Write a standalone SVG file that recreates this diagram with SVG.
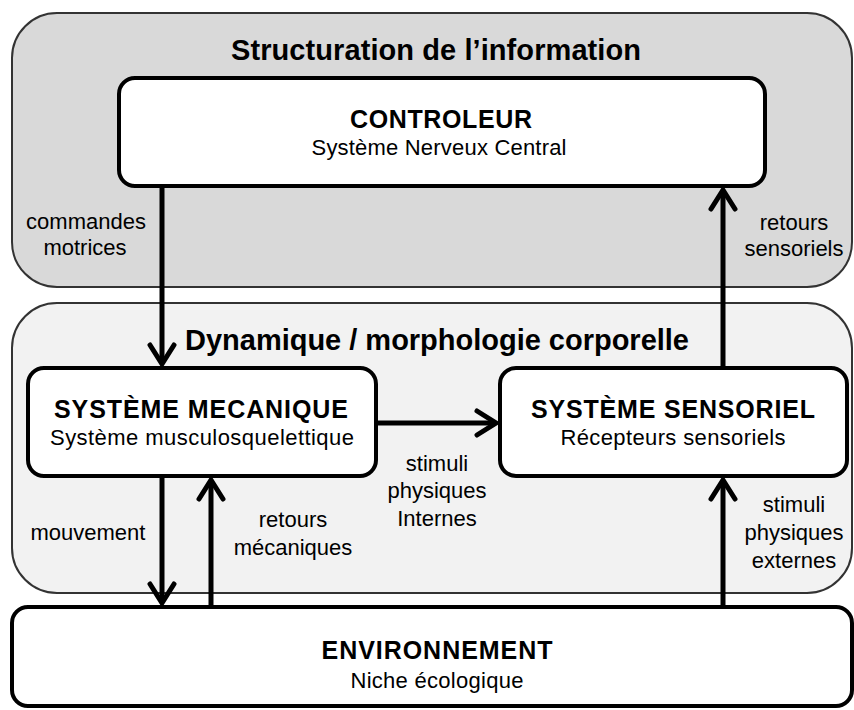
<svg xmlns="http://www.w3.org/2000/svg" width="854" height="710" viewBox="0 0 854 710">
<style>
text{font-family:"Liberation Sans",Arial,sans-serif;fill:#000;text-anchor:middle}
.t{font-size:29px;font-weight:bold}
.h{font-size:25px;font-weight:bold}
.s{font-size:22px}
.l{font-size:22px}
.zone{stroke:#333;stroke-width:2}
.box{fill:#fff;stroke:#000;stroke-width:4}
.arr{fill:none;stroke:#000;stroke-width:5;marker-end:url(#ah)}
</style>
<defs>
<marker id="ah" markerUnits="userSpaceOnUse" viewBox="-24 -15 28 30" refX="0" refY="0" markerWidth="28" markerHeight="30" orient="auto">
<path d="M-19,-12 L0,0 L-19,12" fill="none" stroke="#000" stroke-width="5" stroke-linecap="round" stroke-linejoin="miter"/>
</marker>
</defs>
<g id="zone-information">
<rect class="zone" x="12" y="13" width="840" height="274" rx="45" fill="#d9d9d9"/>
<text class="t" x="436" y="60" textLength="410">Structuration de l’information</text>
</g>
<g id="zone-dynamique">
<rect class="zone" x="12" y="303" width="840" height="290" rx="45" fill="#f2f2f2"/>
<text class="t" x="437" y="350" textLength="504">Dynamique / morphologie corporelle</text>
</g>
<g id="controleur">
<rect class="box" x="119" y="78" width="646" height="108" rx="16"/>
<text class="h" x="441" y="128" textLength="182">CONTROLEUR</text>
<text class="s" x="439" y="155" textLength="255">Système Nerveux Central</text>
</g>
<g id="systeme-mecanique">
<rect class="box" x="28" y="368" width="348" height="108" rx="16"/>
<text class="h" x="201" y="418" textLength="294">SYSTÈME MECANIQUE</text>
<text class="s" x="202" y="445" textLength="304">Système musculosquelettique</text>
</g>
<g id="systeme-sensoriel">
<rect class="box" x="500" y="368" width="347" height="108" rx="16"/>
<text class="h" x="673" y="418" textLength="284">SYSTÈME SENSORIEL</text>
<text class="s" x="673" y="445" textLength="225">Récepteurs sensoriels</text>
</g>
<g id="environnement">
<rect class="box" x="12" y="607" width="840" height="99" rx="16"/>
<text class="h" x="437" y="659" textLength="231">ENVIRONNEMENT</text>
<text class="s" x="437" y="688" textLength="173">Niche écologique</text>
</g>
<g id="connectors">
<path class="arr" d="M162,186 V364"/>
<path class="arr" d="M723,368 V190"/>
<path class="arr" d="M376,423 H496"/>
<path class="arr" d="M162,476 V603"/>
<path class="arr" d="M211,607 V480"/>
<path class="arr" d="M723,607 V480"/>
</g>
<g id="labels">
<text class="l" x="86" y="229">commandes</text>
<text class="l" x="85" y="255">motrices</text>
<text class="l" x="794" y="230">retours</text>
<text class="l" x="794" y="256">sensoriels</text>
<text class="l" x="437" y="471">stimuli</text>
<text class="l" x="437" y="498">physiques</text>
<text class="l" x="437" y="526">Internes</text>
<text class="l" x="88" y="540">mouvement</text>
<text class="l" x="293" y="527">retours</text>
<text class="l" x="293" y="555">mécaniques</text>
<text class="l" x="794" y="512">stimuli</text>
<text class="l" x="794" y="540">physiques</text>
<text class="l" x="794" y="568">externes</text>
</g>
</svg>
